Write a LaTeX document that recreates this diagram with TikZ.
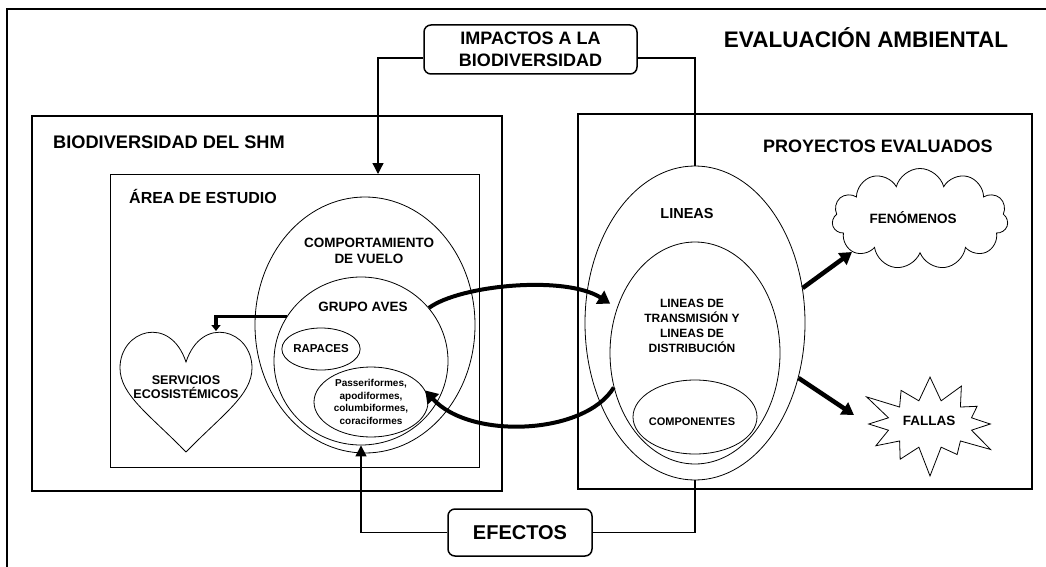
\documentclass[tikz,border=0pt]{standalone}
\usepackage{fontspec}
\setmainfont{Liberation Sans}
\usetikzlibrary{shapes.geometric,shapes.symbols,arrows.meta}
\newcommand{\tam}[2]{\fontsize{#1}{#2}\selectfont}

\begin{document}
\begin{tikzpicture}[x=1pt,y=-1pt,
	caja/.style={draw,line width=1.8pt,inner sep=0pt},
	elip/.style={ellipse,draw,line width=0.8pt,inner sep=0pt},
	txt/.style={align=center,inner sep=0pt},
	etiq/.style={draw,rounded corners=7pt,line width=1.5pt,inner sep=0pt,align=center,font=\bfseries\tam{18}{22}},
	linea/.style={line width=1.3pt},
	flecha/.style={line width=1.3pt,-{Triangle[length=11pt,width=11pt]}},
	gruesa/.style={line width=4.5pt,-{Triangle[length=12pt,width=14pt]}},
	curva/.style={line width=4pt,-{Triangle[length=12pt,width=15pt]}},
	codo/.style={line width=3.5pt,-{Triangle[length=6pt,width=9pt]}}]
		\useasboundingbox (0,0) rectangle (1046,567);
		\draw[line width=1.8pt] (7,9) rectangle (1080,600);

		% Cajas
		\node (shm) at (267,303.5) [caja,minimum width=470pt,minimum height=375pt] {};
		\node (area) at (294.5,320.5) [caja,line width=1pt,minimum width=369pt,minimum height=293pt] {};
		\node (proy) at (805,301.5) [caja,minimum width=454pt,minimum height=375pt] {};
		\node (imp) at (530.5,49.5) [etiq,minimum width=213pt,minimum height=49pt] {IMPACTOS A LA\\BIODIVERSIDAD};
		\node (efe) at (520,532.5) [etiq,font=\bfseries\tam{20}{24},minimum width=144pt,minimum height=47pt] {EFECTOS};

		% Titulos
		\node (tit) at (866,48) [txt,anchor=base,font=\bfseries\tam{22.5}{26}] {EVALUACIÓN AMBIENTAL};
		\node (tshm) at (53,148) [txt,anchor=base west,font=\bfseries\tam{18.2}{22}] {BIODIVERSIDAD DEL SHM};
		\node (tarea) at (129,203) [txt,anchor=base west,font=\bfseries\tam{16}{19}] {ÁREA DE ESTUDIO};
		\node (tproy) at (763,152) [txt,anchor=base west,font=\bfseries\tam{18}{22}] {PROYECTOS EVALUADOS};

		% Elipses
		\node (comp) at (365,325) [elip,minimum width=220pt,minimum height=256pt] {};
		\node (aves) at (361,361) [elip,minimum width=174pt,minimum height=168pt] {};
		\node (rap) at (321,349) [elip,minimum width=74pt,minimum height=42pt,font=\bfseries\tam{11.5}{14}] {RAPACES};
		\node (pas) at (371,402) [elip,minimum width=114pt,minimum height=70pt,align=center,font=\bfseries\tam{10}{12.4}] {Passeriformes,\\apodiformes,\\columbiformes,\\coraciformes};
		\node (lin) at (695,323) [elip,minimum width=220pt,minimum height=314pt] {};
		\node (trans) at (695,353) [elip,minimum width=170pt,minimum height=222pt] {};
		\node (cmpn) at (695,417) [elip,minimum width=124pt,minimum height=74pt] {};

		\node (tcomp) at (369,251) [txt,font=\bfseries\tam{13.5}{15.5}] {COMPORTAMIENTO\\DE VUELO};
		\node (taves) at (363,307) [txt,font=\bfseries\tam{13.5}{16}] {GRUPO AVES};
		\node (tlin) at (687,214) [txt,font=\bfseries\tam{14.5}{17}] {LINEAS};
		\node (ttrans) at (692,326) [txt,font=\bfseries\tam{12}{15}] {LINEAS DE\\TRANSMISIÓN Y\\LINEAS DE\\DISTRIBUCIÓN};
		\node (tcmpn) at (692,422) [txt,font=\bfseries\tam{11}{13}] {COMPONENTES};

		% Corazon
		\draw[line width=0.8pt] (186,452) .. controls (150,415) and (120,395) .. (120,368)
			.. controls (120,330) and (170,314) .. (186,362)
			.. controls (202,314) and (252,330) .. (252,368)
			.. controls (252,395) and (222,415) .. (186,452);
		\node (srv) at (186,387) [txt,font=\bfseries\tam{12.6}{14}] {SERVICIOS\\ECOSISTÉMICOS};

		% Nube y estrella
		\node (fen) at (920,219) [cloud,draw,line width=0.8pt,cloud puffs=11,cloud ignores aspect,minimum width=176pt,minimum height=101pt,inner sep=0pt] {};
		\node (tfen) at (913,218) [txt,font=\bfseries\tam{13.5}{16}] {FENÓMENOS};
		\node (fal) at (930,424) [starburst,draw,line width=0.8pt,starburst points=12,starburst point height=32pt,minimum width=150pt,minimum height=112pt,inner sep=0pt] {};
		\node (tfal) at (929,421) [txt,font=\bfseries\tam{13.5}{16}] {FALLAS};

		% Conexiones
		\coordinate (pImp) at (378,174);
		\coordinate (pSrv) at (216,331);
		\coordinate (pFen) at (852,252);
		\coordinate (pFal) at (854,415);
		\draw[flecha] ([yshift=-8.5pt]imp.west) -| (pImp);
		\draw[linea] ([yshift=-8.5pt]imp.east) -| (lin.north);
		\draw[flecha] (efe.west) -| (aves.south);
		\draw[linea] (efe.east) -| (lin.south);
		\draw[codo] (aves.149) -| (pSrv);
		\draw[gruesa] (lin.18) -- (pFen);
		\draw[gruesa] (lin.-28) -- (pFal);
		\draw[curva,shorten >=8pt] (aves.38) .. controls (460,285) and (565,275) .. (trans.150);
		\draw[curva] (trans.203) .. controls (585,435) and (470,440) .. (pas.12);
	\end{tikzpicture}
\end{document}
